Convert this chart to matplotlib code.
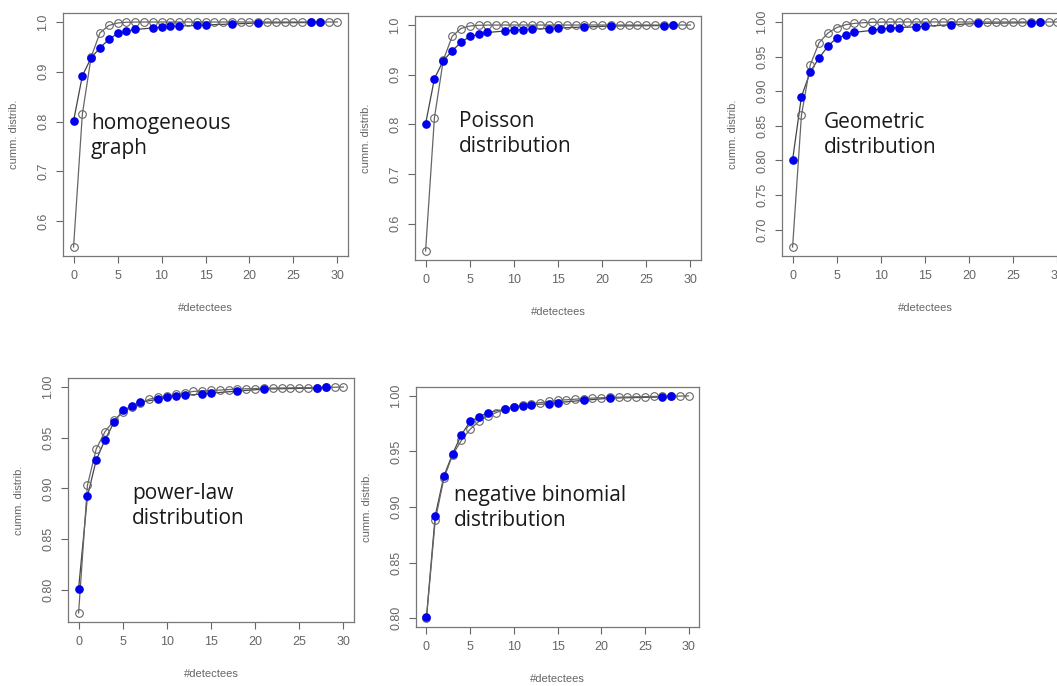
import numpy as np
import matplotlib
matplotlib.use("Agg")
import matplotlib.pyplot as plt

# observed cumulative distribution of #detectees (blue points, same in all panels)
obs_x = [0, 1, 2, 3, 4, 5, 6, 7, 9, 10, 11, 12, 14, 15, 18, 21, 27, 28]
obs_cdf = [0.801, 0.892, 0.928, 0.948, 0.965, 0.977, 0.981, 0.985, 0.988, 0.990,
           0.991, 0.992, 0.993, 0.994, 0.996, 0.998, 0.999, 1.000]

# fitted models, evaluated at 0..30
fit_x = list(range(31))
homog = [0.548, 0.815, 0.930, 0.978, 0.993, 0.998, 0.9995, 0.9999, 1.0, 1.0,
         1.0, 1.0, 1.0, 1.0, 1.0, 1.0, 1.0, 1.0, 1.0, 1.0,
         1.0, 1.0, 1.0, 1.0, 1.0, 1.0, 1.0, 1.0, 1.0, 1.0, 1.0]
poisson = [0.545, 0.813, 0.929, 0.977, 0.993, 0.998, 0.9995, 0.9999, 1.0, 1.0,
           1.0, 1.0, 1.0, 1.0, 1.0, 1.0, 1.0, 1.0, 1.0, 1.0,
           1.0, 1.0, 1.0, 1.0, 1.0, 1.0, 1.0, 1.0, 1.0, 1.0, 1.0]
geometric = [0.675, 0.865, 0.938, 0.970, 0.984, 0.992, 0.996, 0.998, 0.999, 0.9995,
             0.9998, 0.9999, 1.0, 1.0, 1.0, 1.0, 1.0, 1.0, 1.0, 1.0,
             1.0, 1.0, 1.0, 1.0, 1.0, 1.0, 1.0, 1.0, 1.0, 1.0, 1.0]
powerlaw = [0.777, 0.903, 0.939, 0.956, 0.967, 0.975, 0.980, 0.984, 0.988, 0.990,
            0.991, 0.993, 0.994, 0.9957, 0.9962, 0.9967, 0.997, 0.9975, 0.998, 0.9983,
            0.9985, 0.9987, 0.999, 0.9991, 0.9992, 0.9993, 0.9994, 0.9995, 0.9997, 0.9998, 1.0]
negbinom = [0.800, 0.888, 0.926, 0.947, 0.960, 0.970, 0.977, 0.982, 0.985, 0.988,
            0.990, 0.992, 0.993, 0.994, 0.995, 0.996, 0.9965, 0.997, 0.9975, 0.998,
            0.9983, 0.9986, 0.9988, 0.999, 0.9992, 0.9993, 0.9995, 0.9996, 0.9997, 0.9998, 1.0]

labels = ["homogeneous\ngraph", "Poisson\ndistribution", "Geometric\ndistribution",
          "power-law\ndistribution", "negative binomial\ndistribution"]
fits = [homog, poisson, geometric, powerlaw, negbinom]
yticks = [[0.6, 0.7, 0.8, 0.9, 1.0],
          [0.6, 0.7, 0.8, 0.9, 1.0],
          [0.70, 0.75, 0.80, 0.85, 0.90, 0.95, 1.00],
          [0.80, 0.85, 0.90, 0.95, 1.00],
          [0.80, 0.85, 0.90, 0.95, 1.00]]
yfmt = ["%.1f", "%.1f", "%.2f", "%.2f", "%.2f"]

W, H = 1057, 686
# axes boxes in pixels: left, right, top, bottom
boxes = [(63, 348, 13, 256), (415, 701, 16, 260), (782, 1068, 13, 256),
         (68, 354, 378, 622), (416, 699, 387, 627)]
# label positions (left, top) in pixels
text_pos = [(91, 113), (459, 111), (824, 112), (132, 483), (454, 485)]

fig = plt.figure(figsize=(W / 100, H / 100), dpi=100)
grey = "#666666"

for i in range(5):
    l, r, t, b = boxes[i]
    ax = fig.add_axes([l / W, (H - b) / H, (r - l) / W, (b - t) / H])
    fit = fits[i]
    ax.plot(obs_x, obs_cdf, "-", color="#444444", lw=0.9, zorder=2)
    ax.plot(fit_x, fit, "-", color="#666666", lw=0.9, marker="o", ms=5.5,
            mfc="none", mec="#666666", mew=0.8, zorder=3)
    ax.plot(obs_x, obs_cdf, "o", color="#0000ee", ms=5.2, zorder=4)

    lo = min(min(fit), min(obs_cdf))
    hi = 1.0
    pad = 0.04 * (hi - lo)
    ax.set_ylim(lo - pad, hi + pad)
    ax.set_xlim(-1.2, 31.2)
    ax.set_xticks([0, 5, 10, 15, 20, 25, 30])
    ax.set_yticks(yticks[i])
    ax.set_yticklabels([yfmt[i] % v for v in yticks[i]], rotation=90, va="center")
    ax.tick_params(colors=grey, labelsize=9, length=5, width=0.8, pad=5)
    for lab in ax.get_xticklabels() + ax.get_yticklabels():
        lab.set_family("Liberation Sans")
    for s in ax.spines.values():
        s.set_color("#777777")
        s.set_linewidth(0.9)
    ax.set_xlabel("#detectees", fontsize=8, color=grey, labelpad=15,
                  family="Liberation Sans")
    ax.set_ylabel("cumm. distrib.", fontsize=8, color=grey, labelpad=13,
                  family="Liberation Sans")

    tx, ty = text_pos[i]
    fig.text(tx / W, 1 - ty / H, labels[i], fontsize=15, family="Open Sans",
             color="#1a1a1a", ha="left", va="top", linespacing=1.26)

fig.savefig("out.png", dpi=100)
